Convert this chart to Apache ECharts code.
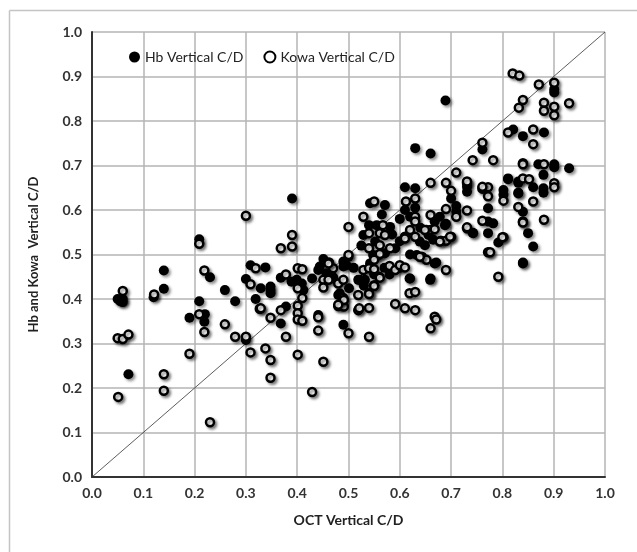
<!DOCTYPE html>
<html>
<head>
<meta charset="utf-8">
<script src="https://cdn.jsdelivr.net/npm/echarts@6/dist/echarts.min.js"></script>
<style>
html,body{margin:0;padding:0;background:#fff;}
#chart{width:637px;height:552px;}
</style>
</head>
<body>
<div id="chart"></div>
<script>
// Axis ticks
var xTicks = [0.0,0.1,0.2,0.3,0.4,0.5,0.6,0.7,0.8,0.9,1.0];
var yTicks = [0.0,0.1,0.2,0.3,0.4,0.5,0.6,0.7,0.8,0.9,1.0];
var seriesNames = ['Hb Vertical C/D','Kowa Vertical C/D'];
var identityLine = [[0,0],[1,1]];

// Hb Vertical C/D  [OCT, Hb]
var hbPoints = [
[0.05,0.40],[0.055,0.395],[0.06,0.40],[0.06,0.393],[0.057,0.398],
[0.071,0.231],[0.12,0.404],[0.14,0.464],[0.14,0.423],[0.209,0.534],
[0.23,0.449],[0.209,0.395],[0.19,0.358],[0.22,0.366],[0.219,0.349],
[0.259,0.42],[0.279,0.395],[0.30,0.308],[0.309,0.476],[0.30,0.445],
[0.319,0.40],[0.338,0.471],[0.329,0.424],[0.348,0.428],[0.348,0.413],
[0.348,0.42],[0.378,0.383],[0.368,0.345],[0.39,0.626],[0.368,0.448],
[0.389,0.439],[0.399,0.443],[0.409,0.435],[0.412,0.42],[0.429,0.446],
[0.441,0.364],[0.451,0.49],[0.441,0.465],[0.47,0.449],[0.49,0.473],
[0.496,0.476],[0.542,0.615],[0.571,0.611],[0.48,0.409],[0.501,0.424],
[0.49,0.342],[0.519,0.443],[0.61,0.651],[0.63,0.649],[0.63,0.605],
[0.61,0.60],[0.54,0.566],[0.555,0.566],[0.581,0.562],[0.529,0.544],
[0.552,0.529],[0.591,0.514],[0.548,0.499],[0.542,0.48],[0.522,0.443],
[0.532,0.443],[0.619,0.446],[0.483,0.413],[0.50,0.495],[0.49,0.484],
[0.444,0.473],[0.457,0.458],[0.47,0.446],[0.633,0.499],[0.66,0.727],
[0.761,0.736],[0.70,0.626],[0.731,0.652],[0.731,0.641],[0.802,0.645],
[0.802,0.634],[0.811,0.669],[0.831,0.664],[0.831,0.639],[0.71,0.609],
[0.71,0.596],[0.772,0.604],[0.678,0.585],[0.668,0.574],[0.688,0.566],
[0.649,0.521],[0.772,0.574],[0.782,0.57],[0.742,0.549],[0.772,0.548],
[0.792,0.527],[0.84,0.596],[0.668,0.48],[0.66,0.446],[0.84,0.48],
[0.62,0.446],[0.659,0.443],[0.671,0.482],[0.743,0.548],[0.69,0.569],
[0.639,0.529],[0.656,0.544],[0.665,0.533],[0.571,0.503],[0.901,0.871],
[0.901,0.864],[0.821,0.781],[0.84,0.766],[0.881,0.774],[0.87,0.703],
[0.901,0.703],[0.901,0.696],[0.93,0.694],[0.811,0.671],[0.831,0.661],
[0.88,0.679],[0.86,0.651],[0.88,0.649],[0.88,0.639],[0.831,0.637],
[0.85,0.548],[0.86,0.518],[0.84,0.482],[0.689,0.846],[0.63,0.739],
[0.57,0.47],[0.58,0.455],[0.60,0.58],[0.62,0.585],[0.64,0.56],
[0.60,0.53],[0.62,0.50],[0.55,0.455],[0.53,0.43],[0.60,0.47],
[0.565,0.59],[0.585,0.545],[0.525,0.52],[0.51,0.47]
];

// Kowa Vertical C/D  [OCT, Kowa]
var kowaPoints = [
[0.06,0.418],[0.05,0.312],[0.06,0.31],[0.071,0.32],[0.051,0.18],
[0.121,0.41],[0.14,0.231],[0.14,0.194],[0.209,0.524],[0.219,0.464],
[0.209,0.366],[0.219,0.326],[0.19,0.277],[0.23,0.123],[0.259,0.343],
[0.279,0.315],[0.30,0.315],[0.309,0.28],[0.30,0.587],[0.319,0.469],
[0.309,0.433],[0.327,0.378],[0.39,0.544],[0.39,0.518],[0.368,0.514],
[0.329,0.379],[0.348,0.358],[0.368,0.375],[0.378,0.315],[0.338,0.289],
[0.348,0.263],[0.348,0.223],[0.401,0.275],[0.451,0.259],[0.429,0.191],
[0.378,0.455],[0.401,0.424],[0.41,0.402],[0.401,0.385],[0.401,0.368],
[0.401,0.354],[0.41,0.351],[0.401,0.469],[0.41,0.467],[0.441,0.359],
[0.441,0.329],[0.462,0.482],[0.47,0.469],[0.451,0.443],[0.451,0.426],
[0.461,0.443],[0.48,0.435],[0.49,0.443],[0.50,0.499],[0.50,0.562],
[0.529,0.585],[0.55,0.619],[0.48,0.384],[0.491,0.383],[0.49,0.402],
[0.50,0.323],[0.519,0.409],[0.519,0.375],[0.54,0.413],[0.54,0.38],
[0.54,0.315],[0.529,0.465],[0.55,0.431],[0.56,0.45],[0.54,0.548],
[0.54,0.514],[0.558,0.499],[0.63,0.626],[0.612,0.619],[0.567,0.566],
[0.561,0.548],[0.571,0.544],[0.561,0.521],[0.581,0.514],[0.561,0.501],
[0.55,0.488],[0.54,0.469],[0.55,0.467],[0.561,0.448],[0.58,0.474],
[0.591,0.465],[0.60,0.476],[0.61,0.471],[0.55,0.429],[0.54,0.411],
[0.491,0.398],[0.48,0.387],[0.521,0.379],[0.591,0.389],[0.61,0.379],
[0.63,0.375],[0.619,0.413],[0.63,0.416],[0.461,0.48],[0.63,0.585],
[0.63,0.574],[0.62,0.555],[0.61,0.54],[0.63,0.54],[0.652,0.555],
[0.643,0.495],[0.652,0.488],[0.742,0.712],[0.782,0.712],[0.84,0.705],
[0.66,0.661],[0.71,0.684],[0.69,0.661],[0.70,0.643],[0.731,0.661],
[0.761,0.648],[0.772,0.651],[0.772,0.631],[0.802,0.621],[0.69,0.602],
[0.71,0.585],[0.731,0.599],[0.66,0.589],[0.66,0.555],[0.649,0.555],
[0.668,0.557],[0.70,0.54],[0.68,0.531],[0.69,0.531],[0.761,0.576],
[0.731,0.559],[0.802,0.539],[0.772,0.505],[0.831,0.607],[0.84,0.574],
[0.639,0.495],[0.69,0.465],[0.668,0.36],[0.792,0.45],[0.61,0.536],
[0.671,0.354],[0.66,0.334],[0.731,0.561],[0.678,0.529],[0.698,0.54],
[0.82,0.907],[0.833,0.902],[0.871,0.882],[0.901,0.886],[0.84,0.847],
[0.832,0.83],[0.881,0.841],[0.881,0.823],[0.901,0.832],[0.901,0.813],
[0.93,0.84],[0.811,0.774],[0.86,0.781],[0.86,0.748],[0.84,0.703],
[0.881,0.703],[0.84,0.671],[0.852,0.669],[0.901,0.66],[0.901,0.651],
[0.86,0.619],[0.84,0.572],[0.881,0.578],[0.80,0.539],[0.776,0.505],
[0.761,0.751],[0.731,0.664],[0.761,0.652]
];

var FONT = 'Lato, "Liberation Sans", sans-serif';
var shadow = {shadowBlur: 3, shadowColor: 'rgba(0,0,0,0.45)', shadowOffsetX: 2, shadowOffsetY: 2};

var chart = echarts.init(document.getElementById('chart'), null, {renderer: 'canvas'});
chart.setOption({
  animation: false,
  backgroundColor: '#ffffff',
  graphic: [
    {type: 'line', shape: {x1: 9.5, y1: 10.5, x2: 640, y2: 10.5}, style: {stroke: '#c4c4c4', lineWidth: 1.5}, silent: true},
    {type: 'line', shape: {x1: 9.5, y1: 10.5, x2: 9.5, y2: 560}, style: {stroke: '#c4c4c4', lineWidth: 1.5}, silent: true}
  ],
  grid: {left: 92, right: 32, top: 32, bottom: 75, containLabel: false},
  legend: {
    left: 124, top: 45,
    itemWidth: 11, itemHeight: 11, itemGap: 20,
    textStyle: {fontFamily: FONT, fontSize: 14, color: '#222'},
    data: [
      {name: seriesNames[0], icon: 'circle'},
      {name: seriesNames[1], icon: 'circle'}
    ]
  },
  xAxis: {
    type: 'value', min: 0, max: 1, interval: 0.1,
    name: 'OCT Vertical C/D', nameLocation: 'middle', nameGap: 36,
    nameTextStyle: {fontFamily: FONT, fontSize: 14, fontWeight: 'bold', color: '#222'},
    axisLine: {show: true, onZero: false, lineStyle: {color: '#333', width: 2}},
    axisTick: {show: false},
    axisLabel: {fontFamily: FONT, fontSize: 14, fontWeight: 'bold', color: '#333', margin: 9,
      formatter: function (v) { return v.toFixed(1); }},
    splitLine: {show: true, lineStyle: {color: '#b4b4b4', width: 1.5}}
  },
  yAxis: {
    type: 'value', min: 0, max: 1, interval: 0.1,
    name: 'Hb and Kowa  Vertical C/D', nameLocation: 'middle', nameGap: 52, nameRotate: 90,
    nameTextStyle: {fontFamily: FONT, fontSize: 13, fontWeight: 'bold', color: '#222'},
    axisLine: {show: true, onZero: false, lineStyle: {color: '#333', width: 2}},
    axisTick: {show: false},
    axisLabel: {fontFamily: FONT, fontSize: 14, fontWeight: 'bold', color: '#333', margin: 10,
      formatter: function (v) { return v.toFixed(1); }},
    splitLine: {show: true, lineStyle: {color: '#b4b4b4', width: 1.5}}
  },
  series: [
    {
      type: 'line', data: identityLine, symbol: 'none', silent: true, z: 1,
      lineStyle: {color: '#333', width: 0.8}
    },
    {
      name: seriesNames[0], type: 'scatter', data: hbPoints, z: 2,
      symbol: 'circle', symbolSize: 10,
      itemStyle: Object.assign({color: '#000', opacity: 1}, shadow)
    },
    {
      name: seriesNames[1], type: 'scatter', data: kowaPoints, z: 3,
      symbol: 'circle', symbolSize: 8,
      itemStyle: Object.assign({color: '#fff', borderColor: '#000', borderWidth: 2.5, opacity: 1}, shadow)
    }
  ]
});
</script>
</body>
</html>
